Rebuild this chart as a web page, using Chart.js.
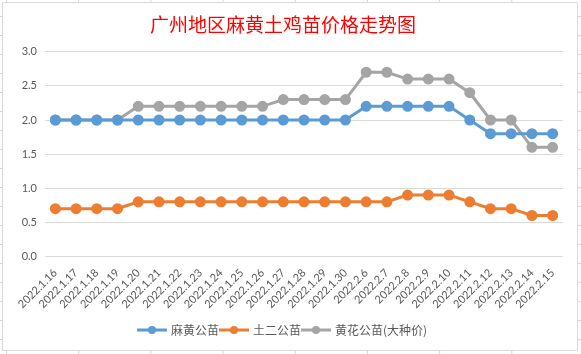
<!DOCTYPE html>
<html>
<head>
<meta charset="utf-8">
<script src="https://cdn.jsdelivr.net/npm/chart.js@4.4.0/dist/chart.umd.min.js"></script>
<style>
  html, body { margin: 0; padding: 0; }
  body {
    width: 581px; height: 354px; overflow: hidden; position: relative;
    background-color: #fff;
    background-image:
      linear-gradient(to right, #d4d4e0 1px, transparent 1px),
      linear-gradient(to bottom, #d4d4e0 1px, transparent 1px);
    background-size: 72.2px 354px, 581px 19px;
    background-position: 6px 0, 0 16px;
  }
  #box {
    position: absolute; left: 2px; top: 2px;
    width: 576px; height: 349px; box-sizing: border-box;
    border: 1px solid #d9d9d9; background: #fff;
  }
  #box canvas { display: block; }
</style>
</head>
<body>
<div id="box"><canvas id="myChart" width="574" height="347"></canvas></div>
<script>
const ctx = document.getElementById('myChart').getContext('2d');

const dates = ['2022.1.16','2022.1.17','2022.1.18','2022.1.19','2022.1.20','2022.1.21','2022.1.22',
  '2022.1.23','2022.1.24','2022.1.25','2022.1.26','2022.1.27','2022.1.28','2022.1.29','2022.1.30',
  '2022.2.6','2022.2.7','2022.2.8','2022.2.9','2022.2.10','2022.2.11','2022.2.12','2022.2.13',
  '2022.2.14','2022.2.15'];
const mahuang = [2.0,2.0,2.0,2.0,2.0,2.0,2.0,2.0,2.0,2.0,2.0,2.0,2.0,2.0,2.0,
  2.2,2.2,2.2,2.2,2.2,2.0,1.8,1.8,1.8,1.8];
const tuer = [0.7,0.7,0.7,0.7,0.8,0.8,0.8,0.8,0.8,0.8,0.8,0.8,0.8,0.8,0.8,
  0.8,0.8,0.9,0.9,0.9,0.8,0.7,0.7,0.6,0.6];
const huanghua = [2.0,2.0,2.0,2.0,2.2,2.2,2.2,2.2,2.2,2.2,2.2,2.3,2.3,2.3,2.3,
  2.7,2.7,2.6,2.6,2.6,2.4,2.0,2.0,1.6,1.6];
const seriesNames = ['麻黄公苗','土二公苗','黄花公苗(大种价)'];
const colors = ['#5B9BD5','#ED7D31','#A5A5A5'];

// legend marker: line with a dot in the middle
function legendMark(color){
  const c = document.createElement('canvas');
  c.width = 30; c.height = 10;
  const g = c.getContext('2d');
  g.strokeStyle = color;
  g.lineWidth = 3;
  g.beginPath(); g.moveTo(0,5); g.lineTo(30,5); g.stroke();
  g.fillStyle = color;
  g.beginPath(); g.arc(15,5,4,0,Math.PI*2); g.fill();
  return c;
}

function makeSet(i, data){
  return {
    label: seriesNames[i],
    data: data,
    borderColor: colors[i],
    backgroundColor: colors[i],
    borderWidth: 3,
    pointRadius: 4,
    pointHoverRadius: 4,
    pointStyle: 'circle',
    tension: 0,
    legendImg: legendMark(colors[i])
  };
}

const myChart = new Chart(ctx, {
  type: 'line',
  data: {
    labels: dates,
    datasets: [makeSet(0, mahuang), makeSet(1, tuer), makeSet(2, huanghua)]
  },
  options: {
    responsive: false,
    animation: false,
    layout: { padding: { left: 0, right: 14, top: 0, bottom: 4 } },
    plugins: {
      title: {
        display: true,
        text: '广州地区麻黄土鸡苗价格走势图',
        color: '#ff0000',
        font: { family: '"Noto Sans CJK SC"', size: 19, weight: 'normal' },
        padding: { top: 10, bottom: 16 }
      },
      legend: {
        position: 'bottom',
        labels: {
          color: '#595959',
          font: { family: '"Noto Sans CJK SC"', size: 12 },
          usePointStyle: true,
          pointStyleWidth: 26,
          boxHeight: 10,
          padding: 2,
          generateLabels: function(chart){
            return chart.data.datasets.map(function(ds, i){
              return {
                text: ds.label,
                fillStyle: ds.borderColor,
                strokeStyle: ds.borderColor,
                fontColor: '#595959',
                pointStyle: ds.legendImg,
                lineWidth: 0,
                datasetIndex: i
              };
            });
          }
        }
      },
      tooltip: { enabled: false }
    },
    scales: {
      x: {
        offset: true,
        grid: { display: false },
        border: { display: false },
        afterFit: function(scale){ scale.height = scale.height + 9; },
        ticks: {
          color: '#595959',
          font: { family: 'Lato', size: 11 },
          minRotation: 45,
          maxRotation: 45,
          autoSkip: false,
          padding: 2
        }
      },
      y: {
        min: 0,
        max: 3,
        grid: { color: '#d9d9d9', drawTicks: false },
        border: { display: false },
        afterFit: function(scale){ scale.width = 42; },
        ticks: {
          stepSize: 0.5,
          color: '#595959',
          font: { family: 'Lato', size: 11 },
          padding: 8,
          callback: function(v){ return v.toFixed(1); }
        }
      }
    }
  }
});
</script>
</body>
</html>
